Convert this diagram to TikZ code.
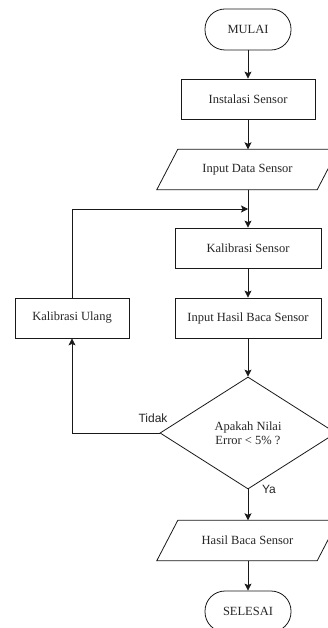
\documentclass[tikz,border=0pt]{standalone}
\usepackage{fontspec}
\setmainfont{Liberation Serif}
\newfontfamily\labelsans{Liberation Sans}
\usetikzlibrary{shapes.geometric,arrows.meta}
\begin{document}
\begin{tikzpicture}[x=1pt,y=-1pt,
  every node/.style={font=\fontsize{12.5}{14.5}\selectfont, text=black!85},
  proc/.style={draw=black!90, line width=0.8pt, rectangle, minimum height=40pt, inner sep=0pt},
  term/.style={draw=black!90, line width=0.8pt, rounded corners=20pt, minimum width=86pt, minimum height=41pt, inner sep=0pt},
  io/.style={minimum width=160pt, minimum height=40pt, inner sep=0pt},
  ioframe/.style={draw=black!90, line width=0.8pt},
  decision/.style={draw=black!90, line width=0.8pt, diamond, minimum width=176pt, minimum height=112pt, aspect=1.57, inner sep=0pt, align=center},
  flow/.style={draw=black!90, line width=0.8pt, -{Stealth[length=7pt,width=7pt,inset=1.5pt]}},
  lab/.style={font=\labelsans\fontsize{12}{14}\selectfont}
]
\useasboundingbox (0,0) rectangle (328,628);
\clip (0,0) rectangle (328,628);
\fill[white] (0,0) rectangle (328,628);

\node[term] (start) at (248,29.5) {MULAI};
\node[proc, minimum width=134pt] (inst) at (248,99) {Instalasi Sensor};
\node[io] (inp) at (247.5,169.5) {Input Data Sensor};
\draw[ioframe] ([xshift=-10.5pt]inp.south west) -- ([xshift=10.5pt]inp.north west) -- ([xshift=10.5pt]inp.north east) -- ([xshift=-10.5pt]inp.south east) -- cycle;
\node[proc, minimum width=146pt] (kal) at (248,248) {Kalibrasi Sensor};
\node[proc, minimum width=146pt] (hasilin) at (248,318) {Input Hasil Baca Sensor};
\node[proc, minimum width=114pt] (ulang) at (72,318) {Kalibrasi Ulang};
\node[decision] (dec) at (248,433) {Apakah Nilai\\Error < 5\% ?};
\node[io] (out) at (247.5,540.5) {Hasil Baca Sensor};
\draw[ioframe] ([xshift=-10.5pt]out.south west) -- ([xshift=10.5pt]out.north west) -- ([xshift=10.5pt]out.north east) -- ([xshift=-10.5pt]out.south east) -- cycle;
\node[term] (end) at (248,611.5) {SELESAI};

\coordinate (join) at (248,209);

\draw[flow] (start) -- (inst);
\draw[flow] (inst.south) -- (inst.south |- inp.north);
\draw[flow] (kal.north |- inp.south) -- (kal.north);
\draw[flow] (ulang.north) |- (join);
\draw[flow] (kal) -- (hasilin);
\draw[flow] (hasilin) -- (dec);
\draw[flow] (dec.west) -| (ulang.south);
\draw[flow] (dec.south) -- (dec.south |- out.north);
\draw[flow] (end.north |- out.south) -- (end.north);

\node[lab] (tidak) at (153,418) {Tidak};
\node[lab] (ya) at (269,489) {Ya};
\end{tikzpicture}
\end{document}
